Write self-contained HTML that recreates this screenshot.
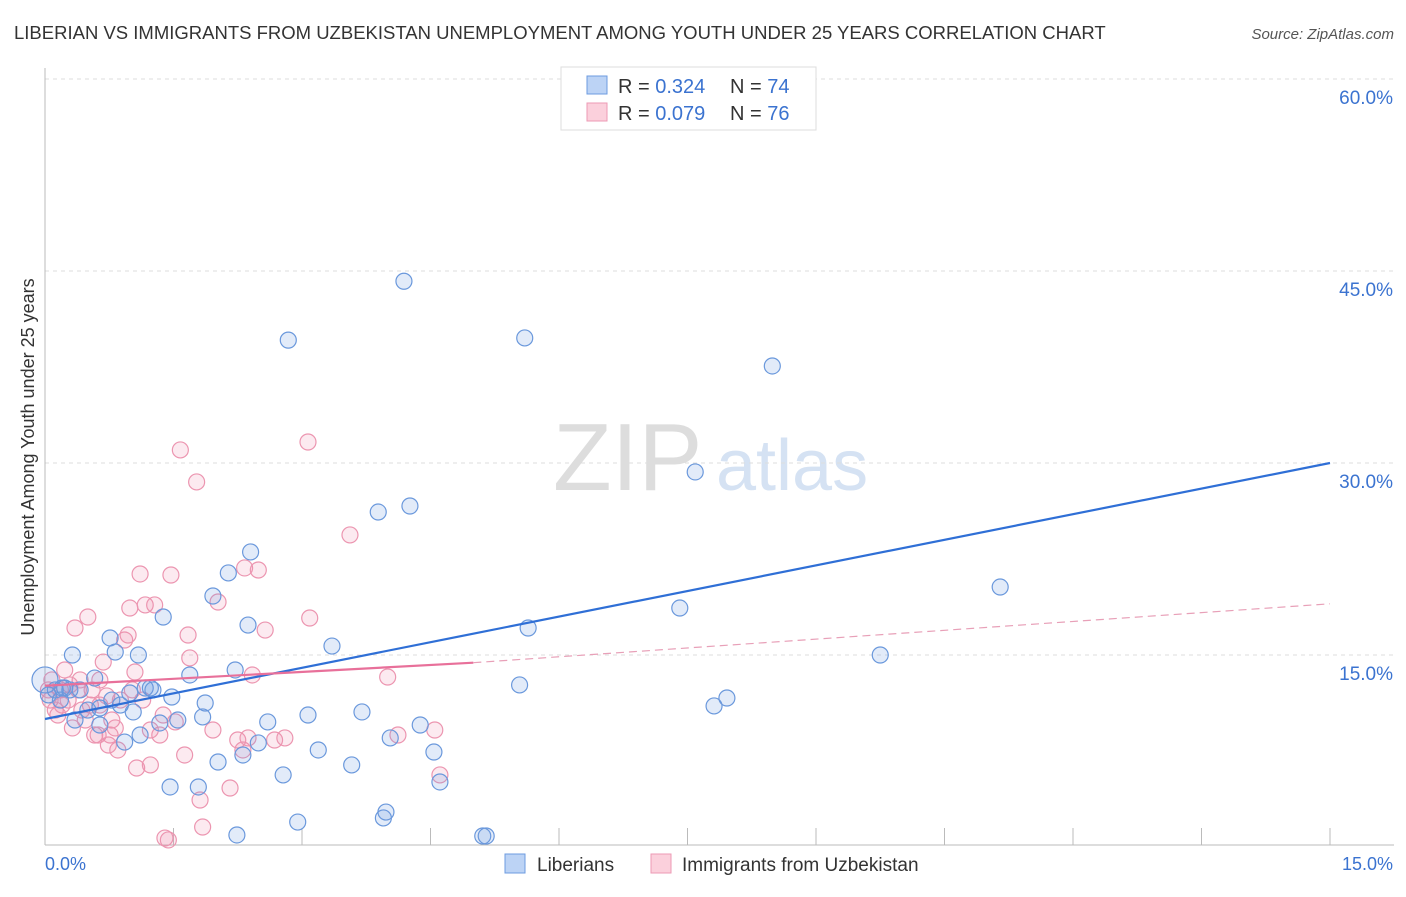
<!DOCTYPE html>
<html><head><meta charset="utf-8"><style>
body{margin:0;background:#fff;font-family:"Liberation Sans",sans-serif;}
svg text{font-family:"Liberation Sans",sans-serif;}
</style></head><body>
<svg id="chart" width="1406" height="892" viewBox="0 0 1406 892" xmlns="http://www.w3.org/2000/svg">
<text x="14" y="39" font-size="18.5" fill="#333">LIBERIAN VS IMMIGRANTS FROM UZBEKISTAN UNEMPLOYMENT AMONG YOUTH UNDER 25 YEARS CORRELATION CHART</text>
<text x="1394" y="39" font-size="15" fill="#555" font-style="italic" text-anchor="end">Source: ZipAtlas.com</text>
<g>
<text x="553" y="490" font-size="96" fill="#ddd" font-family="Liberation Serif, serif">ZIP</text>
<text x="716" y="490" font-size="72" fill="#d5e2f3">atlas</text></g>
<text transform="translate(34,457) rotate(-90)" font-size="18" fill="#333" text-anchor="middle">Unemployment Among Youth under 25 years</text>
<g id="grid"></g><g id="axes"></g><g id="points"></g><g id="lines"></g>
<g>
<rect x="561" y="67" width="255" height="63" fill="#fff" stroke="#ddd"/>
<rect x="587" y="76" width="20" height="18" fill="#bcd3f5" stroke="#6d9be0"/>
<rect x="587" y="103" width="20" height="18" fill="#fbd0dc" stroke="#ec9ab4"/>
<text x="618" y="93" font-size="20" fill="#333">R = <tspan fill="#3b73d0">0.324</tspan></text>
<text x="730" y="93" font-size="20" fill="#333">N = <tspan fill="#3b73d0">74</tspan></text>
<text x="618" y="120" font-size="20" fill="#333">R = <tspan fill="#3b73d0">0.079</tspan></text>
<text x="730" y="120" font-size="20" fill="#333">N = <tspan fill="#3b73d0">76</tspan></text>
</g>
<g>
<rect x="505" y="854" width="20" height="19" fill="#bcd3f5" stroke="#6d9be0"/>
<text x="537" y="871" font-size="19" fill="#333">Liberians</text>
<rect x="651" y="854" width="20" height="19" fill="#fbd0dc" stroke="#ec9ab4"/>
<text x="682" y="871" font-size="19" fill="#333">Immigrants from Uzbekistan</text>
</g>
</svg>
<script>
const blueX=[0.00,0.12,0.20,0.29,0.32,0.41,0.58,0.50,0.64,0.76,0.78,0.82,0.93,0.99,1.03,1.09,1.17,1.23,1.26,1.34,1.38,1.48,1.46,1.55,1.69,1.79,1.84,1.87,1.96,2.02,2.14,2.22,2.24,2.31,2.37,2.40,2.49,2.60,2.78,2.84,2.95,3.07,3.19,3.35,3.58,3.70,3.89,3.95,3.98,4.03,4.19,4.26,4.38,4.54,4.61,5.11,5.15,5.54,5.60,5.64,7.41,7.59,7.81,7.96,8.49,9.75,11.15,0.23,0.35,1.11,0.04,0.64,0.88,0.18];
const blueY=[13.05,12.27,12.42,12.27,15.0,12.27,13.2,10.7,10.86,16.33,11.48,15.23,8.2,12.03,10.55,15.0,12.42,12.42,12.27,9.69,17.97,11.72,4.69,9.92,13.44,4.69,10.16,11.25,19.61,6.64,21.41,13.83,0.94,7.19,17.34,23.05,8.13,9.77,5.63,39.6,1.95,10.31,7.58,15.7,6.41,10.55,26.17,2.27,2.73,8.52,44.2,26.64,9.53,7.42,5.08,0.86,0.86,12.66,39.77,17.11,18.67,29.3,11.02,11.64,37.58,15.0,20.31,12.42,9.92,8.75,11.88,9.53,11.09,11.48];
const pinkX=[0.06,0.12,0.18,0.23,0.32,0.35,0.41,0.47,0.50,0.55,0.58,0.62,0.64,0.68,0.72,0.78,0.82,0.85,0.93,0.97,0.99,1.02,1.05,1.07,1.11,1.14,1.17,1.23,1.28,1.34,1.38,1.40,1.44,1.47,1.52,1.58,1.63,1.67,1.69,1.77,1.81,1.84,1.96,2.02,2.16,2.25,2.31,2.33,2.37,2.42,2.49,2.57,2.68,2.80,3.07,3.09,3.56,4.00,4.12,4.55,4.61,0.04,0.15,0.27,0.39,0.53,0.20,0.88,0.76,1.23,0.64,0.29,0.08,0.74,0.43];
const pinkY=[11.48,10.7,12.27,13.83,9.3,17.11,13.05,9.92,17.97,12.27,8.75,8.75,11.09,14.45,11.8,9.92,9.3,7.58,16.17,16.56,18.67,12.27,13.67,6.17,21.33,11.48,18.91,6.41,18.91,8.75,10.31,0.7,0.55,21.25,9.77,31.02,7.19,16.56,14.77,28.52,3.67,1.56,9.14,19.14,4.61,8.36,7.58,21.8,8.52,13.44,21.64,16.95,8.36,8.52,31.64,17.89,24.38,13.28,8.75,9.14,5.63,12.27,10.31,11.48,12.27,11.09,11.09,11.48,8.75,9.14,13.05,12.66,13.05,7.97,10.7];
const yTicks=[15,30,45,60];
const yTickLabels=["15.0%","30.0%","45.0%","60.0%"];
const xTicks=[0,1.5,3,4.5,6,7.5,9,10.5,12,13.5,15];
const blueTrend=[0,10.0,15,30.0];
const pinkTrend=[0,12.6,5,14.4,15,19.0];

const NS="http://www.w3.org/2000/svg";
const X0=45,X1=1330,Y0=847,YPX=12.8;
const sx=v=>X0+v/15*(X1-X0);
const sy=v=>Y0-v*YPX;
function mk(tag,attrs,parent){const e=document.createElementNS(NS,tag);for(const k in attrs)e.setAttribute(k,attrs[k]);document.getElementById(parent).appendChild(e);return e;}
yTicks.forEach((t,i)=>{
 const l=mk('line',{x1:X0,x2:1394,y1:sy(t),y2:sy(t),stroke:'#ddd','stroke-dasharray':'4,4'},'grid');
 
 
 const tx=mk('text',{x:1393,y:sy(t)+25,'font-size':19,fill:'#3b73d0','text-anchor':'end'},'axes');
 tx.textContent=yTickLabels[i];
 
 
});
const topGrid=mk('line',{x1:X0,x2:1394,y1:79,y2:79,stroke:'#ddd','stroke-dasharray':'4,4'},'grid');


const ya=mk('line',{x1:X0,x2:X0,y1:68,y2:845,stroke:'#bbb'},'axes');


const xa=mk('line',{x1:X0,x2:1394,y1:845,y2:845,stroke:'#bbb'},'axes');


xTicks.forEach(t=>{
 const l=mk('line',{x1:sx(t),x2:sx(t),y1:828,y2:845,stroke:'#bbb'},'axes');
 
 
});
const xl0=mk('text',{x:45,y:870,'font-size':18,fill:'#3b73d0'},'axes');xl0.textContent='0.0%';


const xl1=mk('text',{x:1393,y:870,'font-size':18,fill:'#3b73d0','text-anchor':'end'},'axes');xl1.textContent='15.0%';


pinkX.forEach((x,i)=>{
 const c=mk('circle',{cx:sx(x),cy:sy(pinkY[i]),r:8,fill:'rgba(240,140,170,0.18)',stroke:'#ec95b0','stroke-width':1.2},'points');
 
 
});
blueX.forEach((x,i)=>{
 const c=mk('circle',{cx:sx(x),cy:sy(blueY[i]),r:i===0?13:8,fill:'rgba(110,155,225,0.2)',stroke:'#6a98dc','stroke-width':1.2},'points');
 
 
});
const bl=mk('line',{x1:sx(blueTrend[0]),y1:sy(blueTrend[1]),x2:sx(blueTrend[2]),y2:sy(blueTrend[3]),stroke:'#2f6fd6','stroke-width':2.2},'lines');


const pl=mk('line',{x1:sx(pinkTrend[0]),y1:sy(pinkTrend[1]),x2:sx(pinkTrend[2]),y2:sy(pinkTrend[3]),stroke:'#e8709a','stroke-width':2.2},'lines');


const pd=mk('line',{x1:sx(pinkTrend[2]),y1:sy(pinkTrend[3]),x2:sx(pinkTrend[4]),y2:sy(pinkTrend[5]),stroke:'#e8a0b8','stroke-width':1.2,'stroke-dasharray':'8,5'},'lines');


</script>
</body></html>
